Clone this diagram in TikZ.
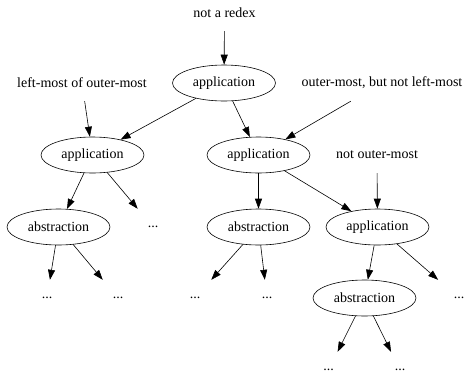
\documentclass[tikz,border=0pt]{standalone}
\usepackage{fontspec}
\setmainfont{Liberation Serif}
\usetikzlibrary{arrows.meta}
\usetikzlibrary{shapes.geometric}

\tikzset{
    term/.style={ellipse, draw, semithick, minimum width=103pt, minimum height=36pt, inner sep=0pt},
    tag/.style={minimum height=36pt, inner sep=0pt},
    more/.style={minimum width=54pt, minimum height=36pt, inner sep=0pt},
    edge/.style={semithick, -{Triangle[length=10pt, width=7pt]}}
}

\begin{document}
\begin{tikzpicture}[x=1pt, y=-1pt, font=\fontsize{14}{17}\selectfont]
            \useasboundingbox (0,0) rectangle (464,373);

            % Labels
            \node[tag] (redex) at (224.5,13) {not a redex};
            \node[tag] (lmom) at (82,83) {left-most of outer-most};
            \node[tag] (omnlm) at (382,83) {outer-most, but not left-most};
            \node[tag] (nom) at (377,155) {not outer-most};

            % Terms
            \node[term] (app) at (224,83) {application};
            \node[term] (appl) at (92.5,155) {application};
            \node[term] (appm) at (258.5,155) {application};
            \node[term] (absl) at (58.5,227) {abstraction};
            \node[term] (absm) at (258.5,227) {abstraction};
            \node[term] (appr) at (377.5,227) {application};
            \node[term] (absr) at (364.5,298) {abstraction};

            % Elided subterms
            \node[more] (more1) at (153,227) {...};
            \node[more] (more2) at (47,298) {...};
            \node[more] (more3) at (118,298) {...};
            \node[more] (more4) at (195,298) {...};
            \node[more] (more5) at (267,298) {...};
            \node[more] (more6) at (459,298) {...};
            \node[more] (more7) at (328.5,370) {...};
            \node[more] (more8) at (400,370) {...};

            % Pointers
            \draw[edge] (redex) -- (app);
            \draw[edge] (lmom) -- (appl);
            \draw[edge] (omnlm) -- (appm);
            \draw[edge] (nom) -- (appr);

            % Tree
            \draw[edge] (app) -- (appl);
            \draw[edge] (app) -- (appm);
            \draw[edge] (appl) -- (absl);
            \draw[edge] (appl) -- (more1);
            \draw[edge] (appm) -- (absm);
            \draw[edge] (appm) -- (appr);
            \draw[edge] (absl) -- (more2);
            \draw[edge] (absl) -- (more3);
            \draw[edge] (absm) -- (more4);
            \draw[edge] (absm) -- (more5);
            \draw[edge] (appr) -- (absr);
            \draw[edge] (appr) -- (more6);
            \draw[edge] (absr) -- (more7);
            \draw[edge] (absr) -- (more8);
        \end{tikzpicture}
\end{document}
